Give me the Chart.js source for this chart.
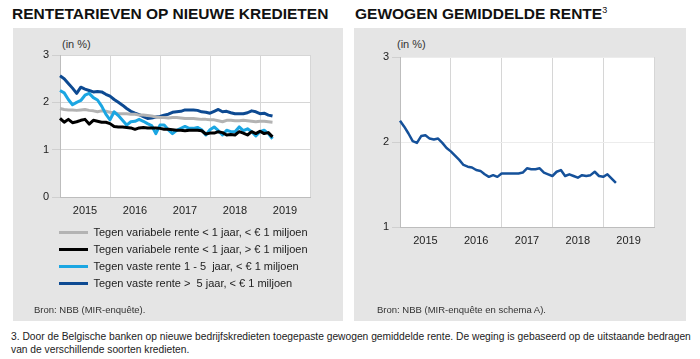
<!DOCTYPE html>
<html>
<head>
<meta charset="utf-8">
<script src="https://cdn.jsdelivr.net/npm/chart.js@4.4.1/dist/chart.umd.min.js"></script>
<style>
  body { margin:0; background:#fff; font-family:"Liberation Sans", Arial, sans-serif; }
  #page { position:relative; width:700px; height:359px; overflow:hidden; }
  .panel { position:absolute; background:#e5e5e5; }
  .title { position:absolute; font-weight:bold; font-size:15.5px; color:#111; white-space:nowrap; }
  .title sup { font-size:9px; font-weight:normal; vertical-align:6px; }
  .unit { position:absolute; font-size:11px; color:#333; }
  .bron { position:absolute; font-size:9.5px; color:#333; white-space:nowrap; }
  .note { position:absolute; left:11px; font-size:10.25px; color:#222; white-space:nowrap; }
  canvas { position:absolute; }
</style>
</head>
<body>
<div id="page">
  <div class="title" style="left:12px; top:5px;">RENTETARIEVEN OP NIEUWE KREDIETEN</div>
  <div class="title" style="left:355px; top:5px;">GEWOGEN GEMIDDELDE RENTE<sup>3</sup></div>

  <div class="panel" style="left:13px; top:28px; width:330px; height:293px;"></div>
  <div class="panel" style="left:354px; top:28px; width:332px; height:293px;"></div>

  <div class="unit" style="left:62px; top:38px;">(in %)</div>
  <div class="unit" style="left:397px; top:38px;">(in %)</div>

  <canvas id="leftChart" width="330" height="270" style="left:13px; top:40px;"></canvas>
  <canvas id="rightChart" width="332" height="215" style="left:354px; top:40px;"></canvas>

  <div class="bron" style="left:34px; top:304px;">Bron: NBB (MIR-enquête).</div>
  <div class="bron" style="left:377px; top:304px;">Bron: NBB (MIR-enquête en schema A).</div>

  <div class="note" style="top:331px;">3. Door de Belgische banken op nieuwe bedrijfskredieten toegepaste gewogen gemiddelde rente. De weging is gebaseerd op de uitstaande bedragen</div>
  <div class="note" style="top:344px;">van de verschillende soorten kredieten.</div>
</div>

<script>
// tick labels / categories
const years = ['2015', '2016', '2017', '2018', '2019'];
const months = [];
years.forEach(y => {
    for (let m = 1; m <= 12; m++) months.push(y + '-' + String(m).padStart(2, '0'));
});
months.push('2020-01');

const seriesNames = [
    'Tegen variabele rente < 1 jaar, < € 1 miljoen',
    'Tegen variabele rente < 1 jaar, > € 1 miljoen',
    'Tegen vaste rente 1 - 5  jaar, < € 1 miljoen',
    'Tegen vaste rente >  5 jaar, < € 1 miljoen'
];

// maandelijkse waarden jan 2015 - apr 2019 (in %)
const variabelKlein = [1.87, 1.85, 1.84, 1.84, 1.83, 1.84, 1.85, 1.83, 1.82, 1.80, 1.82, 1.81,
    1.79, 1.78, 1.76, 1.76, 1.76, 1.75, 1.75, 1.73, 1.73, 1.72, 1.71, 1.69,
    1.68, 1.68, 1.67, 1.68, 1.68, 1.67, 1.66, 1.66, 1.66, 1.65, 1.64, 1.64,
    1.63, 1.63, 1.61, 1.59, 1.62, 1.62, 1.61, 1.61, 1.62, 1.61, 1.60, 1.59,
    1.60, 1.60, 1.59, 1.58];
const variabelGroot = [1.66, 1.58, 1.64, 1.57, 1.59, 1.62, 1.64, 1.54, 1.62, 1.60, 1.58, 1.58,
    1.55, 1.49, 1.48, 1.48, 1.47, 1.46, 1.43, 1.46, 1.47, 1.46, 1.46, 1.46,
    1.45, 1.43, 1.43, 1.42, 1.41, 1.41, 1.40, 1.41, 1.41, 1.41, 1.40, 1.33,
    1.35, 1.35, 1.38, 1.36, 1.31, 1.32, 1.31, 1.38, 1.35, 1.31, 1.38, 1.34,
    1.39, 1.34, 1.36, 1.27];
const vast1tot5 = [2.25, 2.20, 2.06, 1.95, 2.00, 2.04, 2.15, 2.19, 2.10, 2.05, 1.92, 1.75,
    1.63, 1.80, 1.72, 1.62, 1.52, 1.59, 1.60, 1.64, 1.60, 1.55, 1.51, 1.34,
    1.52, 1.52, 1.42, 1.34, 1.41, 1.45, 1.49, 1.45, 1.45, 1.47, 1.42, 1.31,
    1.42, 1.48, 1.40, 1.31, 1.41, 1.38, 1.38, 1.48, 1.40, 1.44, 1.38, 1.29,
    1.38, 1.41, 1.34, 1.23];
const vastBoven5 = [2.56, 2.50, 2.40, 2.30, 2.19, 2.32, 2.28, 2.25, 2.22, 2.23, 2.22, 2.17,
    2.13, 2.06, 2.00, 1.94, 1.87, 1.81, 1.77, 1.74, 1.70, 1.66, 1.67, 1.69,
    1.70, 1.73, 1.75, 1.79, 1.80, 1.81, 1.84, 1.84, 1.84, 1.83, 1.80, 1.79,
    1.77, 1.81, 1.85, 1.80, 1.81, 1.78, 1.76, 1.76, 1.76, 1.78, 1.82, 1.80,
    1.76, 1.77, 1.73, 1.71];
const gewogen = [2.25, 2.18, 2.10, 2.01, 1.99, 2.07, 2.08, 2.04, 2.03, 2.04, 1.99, 1.93,
    1.89, 1.84, 1.79, 1.73, 1.71, 1.70, 1.67, 1.66, 1.62, 1.59, 1.61, 1.59,
    1.63, 1.63, 1.63, 1.63, 1.63, 1.64, 1.69, 1.68, 1.68, 1.69, 1.64, 1.62,
    1.60, 1.65, 1.67, 1.60, 1.62, 1.60, 1.58, 1.61, 1.60, 1.61, 1.65, 1.60,
    1.59, 1.62, 1.57, 1.52];

const FONT = "'Liberation Sans', Arial, sans-serif";
const GRID = '#d6d6d6';

// witte achtergrond voor het grafiekvlak
const plotBg = {
    id: 'plotBg',
    beforeDraw(chart) {
        const a = chart.chartArea;
        chart.ctx.save();
        chart.ctx.fillStyle = '#fff';
        chart.ctx.fillRect(a.left, a.top, a.right - a.left, a.bottom - a.top);
        chart.ctx.restore();
    }
};
// legende iets naar links schuiven en niet afknippen
const nudgeLegend = {
    id: 'nudgeLegend',
    afterLayout(chart) {
        if (chart.legend) { chart.legend.left -= 7; chart.legend.right = chart.width; }
    }
};

function xAxis(height) {
    return {
        type: 'category',
        offset: false,
        afterFit: s => { s.height = height; },
        border: { color: '#bdbdbd' },
        grid: {
            drawTicks: false,
            color: ctx => (ctx.tick && months[ctx.index] && months[ctx.index].endsWith('-01')) ? GRID : 'rgba(0,0,0,0)'
        },
        ticks: {
            autoSkip: false, maxRotation: 0, padding: 7,
            color: '#222', font: { family: FONT, size: 11 },
            callback: function (val, i) {
                const lbl = months[i];
                return lbl && lbl.endsWith('-07') ? lbl.slice(0, 4) : '';
            }
        }
    };
}

function yAxis(min, max, gridColor) {
    return {
        min: min, max: max,
        afterFit: s => { s.width = 20; },
        border: { color: '#bdbdbd' },
        grid: { color: gridColor, tickColor: '#cfcfcf', tickLength: 8 },
        ticks: { stepSize: 1, padding: 3, color: '#222', font: { family: FONT, size: 11 } }
    };
}

function line(label, data, color, order, width) {
    return {
        label: label, data: data, borderColor: color, backgroundColor: color,
        borderWidth: width, pointRadius: 0, tension: 0, order: order,
        borderJoinStyle: 'round', fill: false
    };
}

new Chart(document.getElementById('leftChart'), {
    type: 'line',
    data: {
        labels: months,
        datasets: [
            line(seriesNames[0], variabelKlein, '#b3b3b3', 2, 3),
            line(seriesNames[1], variabelGroot, '#000000', 0, 3),
            line(seriesNames[2], vast1tot5, '#1ba6e2', 1, 3),
            line(seriesNames[3], vastBoven5, '#0d4a92', 3, 3)
        ]
    },
    options: {
        responsive: false,
        animation: false,
        layout: { autoPadding: false, padding: { left: 27, right: 33, top: 15, bottom: 11 } },
        scales: { x: xAxis(24), y: yAxis(0, 3, GRID) },
        plugins: {
            tooltip: { enabled: false },
            legend: {
                position: 'bottom', align: 'start', fullSize: false,
                labels: {
                    usePointStyle: true, pointStyle: 'line', pointStyleWidth: 29,
                    padding: 6, color: '#222', font: { family: FONT, size: 11 },
                    sort: (a, b) => a.datasetIndex - b.datasetIndex
                }
            }
        }
    },
    plugins: [plotBg, nudgeLegend]
});

new Chart(document.getElementById('rightChart'), {
    type: 'line',
    data: {
        labels: months,
        datasets: [line('Gewogen gemiddelde rente', gewogen, '#15519a', 0, 2.5)]
    },
    options: {
        responsive: false,
        animation: false,
        layout: { autoPadding: false, padding: { left: 26, right: 32, top: 17, bottom: 4 } },
        scales: { x: xAxis(24), y: yAxis(1, 3, '#ececec') },
        plugins: { tooltip: { enabled: false }, legend: { display: false } }
    },
    plugins: [plotBg]
});
</script>
</body>
</html>
